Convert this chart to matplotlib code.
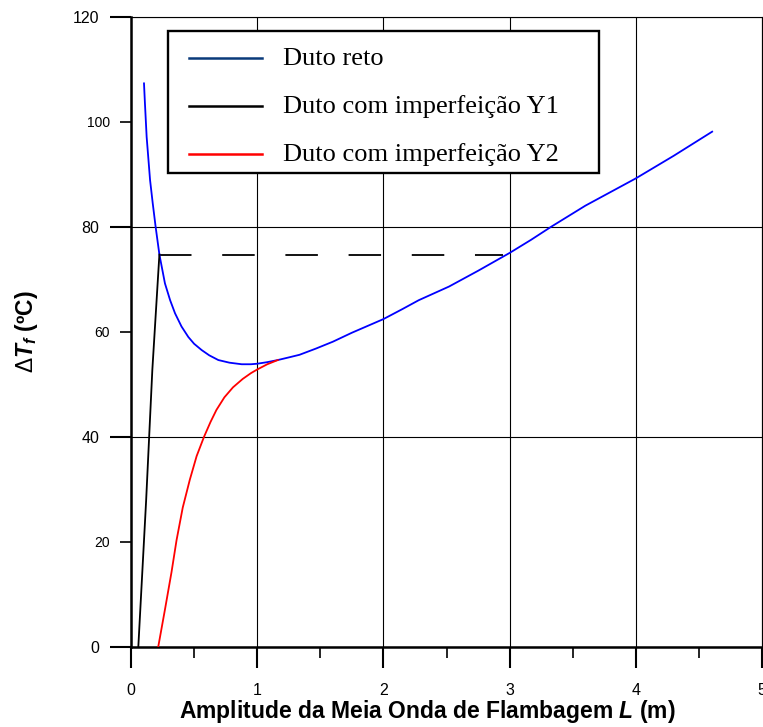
import matplotlib
matplotlib.use("Agg")
from matplotlib import pyplot as plt
from matplotlib.lines import Line2D
from matplotlib.patches import Rectangle
from matplotlib.ticker import FormatStrFormatter

# Duto reto (blue)
reto_L = [0.103, 0.11, 0.124, 0.151, 0.172, 0.195, 0.225, 0.269, 0.31, 0.349,
          0.40, 0.454, 0.50, 0.56, 0.62, 0.692, 0.78, 0.877, 0.95, 1.0, 1.08,
          1.163, 1.25, 1.335, 1.467, 1.6, 1.75, 2.0, 2.15, 2.28, 2.52, 2.75,
          3.0, 3.17, 3.33, 3.6, 3.8, 4.0, 4.3, 4.605]
reto_dT = [107.3, 103.7, 97.1, 88.9, 84.5, 80.0, 74.7, 69.2, 66.0, 63.5,
           61.0, 59.0, 57.7, 56.5, 55.5, 54.6, 54.1, 53.8, 53.8, 53.9, 54.2,
           54.6, 55.1, 55.6, 56.8, 58.1, 59.8, 62.4, 64.3, 66.0, 68.6, 71.6,
           75.0, 77.5, 80.0, 84.0, 86.6, 89.2, 93.5, 98.1]

# Duto com imperfeicao Y1 (black)
y1_L = [0.058, 0.12, 0.169, 0.225]
y1_dT = [0.0, 27.9, 52.7, 74.7]
y1_plateau_L = [0.225, 2.946]
y1_plateau_dT = [74.7, 74.7]

# Duto com imperfeicao Y2 (red)
y2_L = [0.216, 0.27, 0.321, 0.361, 0.41, 0.466, 0.52, 0.579, 0.63, 0.677,
        0.74, 0.808, 0.885, 0.95, 1.0, 1.08, 1.163]
y2_dT = [0.0, 7.2, 14.2, 20.3, 26.5, 31.8, 36.3, 40.0, 42.8, 45.1,
         47.5, 49.4, 51.0, 52.1, 52.8, 53.8, 54.6]

legend_labels = ["Duto reto", "Duto com imperfeição Y1", "Duto com imperfeição Y2"]
legend_colors = ['#0a3a7a', 'black', '#ff0000']

plt.rcParams['mathtext.fontset'] = 'custom'
plt.rcParams['mathtext.rm'] = 'Liberation Sans'
plt.rcParams['mathtext.it'] = 'Liberation Sans:italic:bold'
plt.rcParams['mathtext.bf'] = 'Liberation Sans:bold'
plt.rcParams['font.family'] = ['Liberation Sans', 'DejaVu Sans']

W, H = 763, 727


def fx(px):
    return px / W


def fy(py):
    return 1 - py / H


fig = plt.figure(figsize=(W / 100, H / 100), dpi=100)
ax = fig.add_axes([fx(131), fy(646.7), (762 - 131) / W, (646.7 - 16.7) / H])

ax.plot(reto_L, reto_dT, color='#0000ff', lw=1.3, zorder=3)
ax.plot(y1_L, y1_dT, color='black', lw=1.3, zorder=3)
ax.plot(y1_plateau_L, y1_plateau_dT, color='black', lw=1.3,
        linestyle=(0, (18, 17)), zorder=2)
ax.plot(y2_L, y2_dT, color='#ff0000', lw=1.3, zorder=4)

ax.set_xlim(0, 5)
ax.set_ylim(0, 120)

ax.set_xticks([0, 1, 2, 3, 4, 5])
ax.set_xticks([0.5, 1.5, 2.5, 3.5, 4.5], minor=True)
ax.set_yticks([0, 40, 80, 120])
ax.set_yticks([20, 60, 100], minor=True)
ax.yaxis.set_minor_formatter(FormatStrFormatter('%d'))

ax.tick_params(axis='both', which='major', direction='out', length=15, width=1.5,
               labelsize=11.5)
ax.tick_params(axis='both', which='minor', direction='out', length=8, width=1.2)
ax.tick_params(axis='x', which='major', pad=11)
ax.tick_params(axis='y', which='major', pad=8)
ax.tick_params(axis='y', which='minor', labelsize=10, pad=7)

ax.grid(True, which='major', color='black', lw=0.8)
ax.set_axisbelow(True)

for side in ['left', 'bottom']:
    ax.spines[side].set_linewidth(1.8)
for side in ['top', 'right']:
    ax.spines[side].set_linewidth(0.8)

# legend box drawn by hand so the frame matches the original size
fig.add_artist(Rectangle((fx(168), fy(173)), (599 - 168) / W, (173 - 31) / H,
                         transform=fig.transFigure, facecolor='white',
                         edgecolor='black', lw=1.7, zorder=5))
row_y = [57.7, 106.0, 153.7]
for label, color, ry in zip(legend_labels, legend_colors, row_y):
    fig.add_artist(Line2D([fx(189), fx(262)], [fy(ry), fy(ry)],
                          transform=fig.transFigure, color=color, lw=1.8, zorder=6))
    fig.text(fx(283), fy(ry + 7.5), label, ha='left', va='baseline',
             family='Liberation Serif', fontsize=19, zorder=6)

fig.text(fx(427.5), fy(718.3), r'Amplitude da Meia Onda de Flambagem $L$ (m)',
         ha='center', va='baseline', fontsize=16.5, fontweight='bold')
fig.text(fx(27), fy(332), r'$\Delta T_f$ (ºC)', ha='center', va='center',
         rotation=90, fontsize=16.5, fontweight='bold')

fig.savefig('out.png', dpi=100)
